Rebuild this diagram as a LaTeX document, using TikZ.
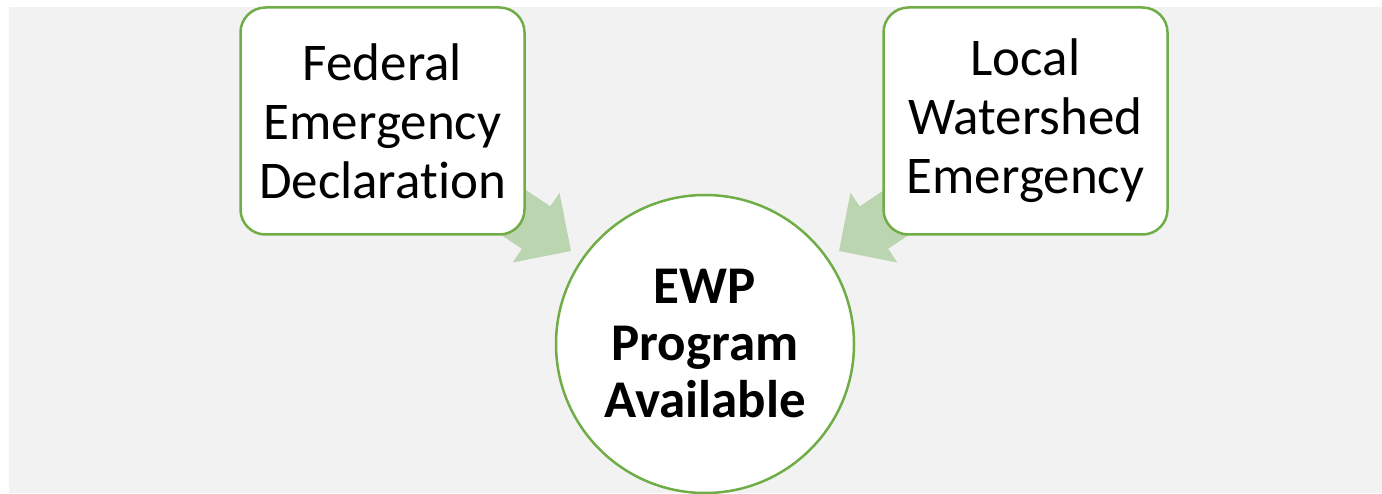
\documentclass[tikz,border=0pt]{standalone}
\usepackage{fontspec}
\setmainfont{Carlito}[Ligatures={NoCommon}]
\definecolor{bggray}{HTML}{F2F2F2}
\definecolor{boxgreen}{HTML}{70AD47}
\definecolor{arrowgreen}{HTML}{BBD5B1}
\tikzset{
  boxnode/.style={draw=boxgreen, line width=2.5pt, fill=white, rounded corners=25pt,
    minimum width=284pt, minimum height=227pt, inner sep=0pt, align=center,
    font=\fontsize{53pt}{59pt}\selectfont},
  circnode/.style={circle, draw=boxgreen, line width=2.5pt, fill=white, minimum size=298pt,
    inner sep=0pt, align=center, font=\bfseries\fontsize{53pt}{57pt}\selectfont},
  blockarrow/.style={fill=arrowgreen, draw=none}
}
\begin{document}
\begin{tikzpicture}[x=1pt,y=-1pt]
\useasboundingbox (0,0) rectangle (1382,494);
\fill[bggray] (9,7) rectangle (1382,493);
% block arrows (drawn first, tails hidden beneath boxes)
\fill[blockarrow] (438.8,193.2) -- (521.9,248.8) -- (512.7,262.5) -- (571,251) -- (559.5,192.7) -- (550.3,206.4) -- (467.2,150.8) -- cycle;
\fill[blockarrow] (971.2,193.2) -- (888.1,248.8) -- (897.3,262.5) -- (839,251) -- (850.5,192.7) -- (859.7,206.4) -- (942.8,150.8) -- cycle;
\node[boxnode] (fed) at (382.5,121) {Federal\\Emergency\\Declaration};
\node[boxnode] (loc) at (1025.5,121) {Local\\Watershed\\Emergency};
\node[circnode] (ewp) at (705,344) {EWP\\Program\\Available};
\end{tikzpicture}
\end{document}
